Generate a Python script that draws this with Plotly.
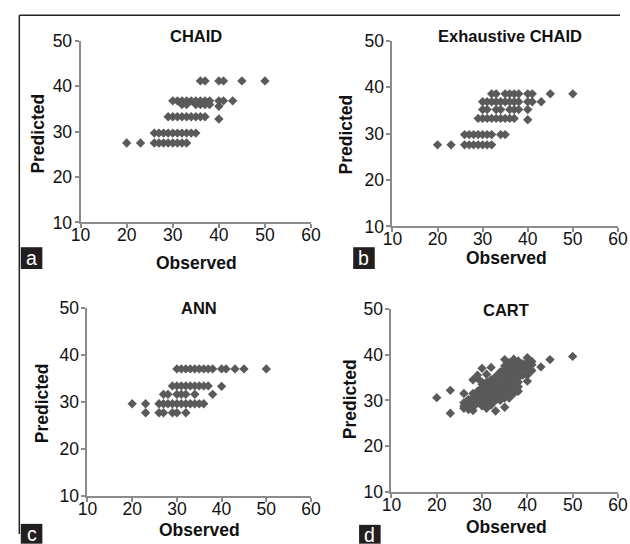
import plotly.graph_objects as go

W, H = 630, 544

# ---------------- data ----------------
# Panel a: CHAID
chaid_x = ([20, 23, 26, 27, 28, 29, 30, 31, 32, 33] +
           [26, 27, 28, 29, 30, 31, 32, 33, 34, 35] +
           [29, 30, 31, 32, 33, 34, 35, 36, 37, 40] +
           [30, 31, 32, 33, 34, 35, 36, 37, 38, 40, 41, 43] +
           [32, 33, 35, 36, 37, 38, 40] +
           [36, 37, 40, 41, 45, 50])
chaid_y = ([27.5] * 10 +
           [29.7] * 10 +
           [33.3] * 9 + [32.8] +
           [36.8] * 12 +
           [36.0] * 6 + [35.6] +
           [41.2] * 6)

# Panel b: Exhaustive CHAID
exh_x = ([20, 23, 26, 27, 28, 29, 30, 31, 32] +
         [26, 27, 28, 29, 30, 31, 32, 34, 35] +
         [29, 30, 31, 32, 33, 34, 35, 36, 37, 40] +
         [30, 31, 33, 34, 36, 37, 38, 40] +
         [30, 31, 32, 33, 34, 35, 36, 37, 38, 40, 41, 43] +
         [32, 33, 35, 36, 37, 38, 40, 41, 45, 50])
exh_y = ([27.6] * 9 +
         [29.8] * 9 +
         [33.3] * 9 + [33.0] +
         [35.2] * 8 +
         [36.9] * 12 +
         [38.6] * 10)

# Panel c: ANN
ann_x = ([23, 26, 27, 29, 30, 32] +
         [20, 23, 26, 27, 28, 29, 30, 31, 32, 33, 34, 35, 36] +
         [27, 28, 30, 31, 32, 34, 38] +
         [29, 30, 31, 32, 33, 34, 35, 36, 37, 40] +
         [30, 31, 32, 33, 34, 35, 36, 37, 38, 40, 41, 43, 45, 50])
ann_y = ([27.7] * 6 +
         [29.6] * 13 +
         [31.6] * 7 +
         [33.4] * 9 + [33.3] +
         [37.0] * 14)

# Panel d: CART
cart_x = ([20, 23, 23] +
          [26] * 4 + [27] * 4 + [28] * 6 + [29] * 7 + [30] * 9 + [31] * 10 +
          [32] * 10 + [33] * 10 + [34] * 9 + [35] * 12 + [36] * 10 + [37] * 10 +
          [38] * 8 + [39] * 3 + [40] * 6 + [41] * 3 + [43, 45, 50])
cart_y = ([30.6, 32.2, 27.2] +
          [31.5, 29.5, 28.3, 28.8] +
          [28.0, 29.0, 30.2, 28.6] +
          [27.8, 29.5, 30.5, 31.5, 34.5, 28.5] +
          [29.5, 30.3, 31.2, 32.0, 34.8, 35.5, 30.8] +
          [29.8, 30.5, 31.3, 32.0, 32.8, 33.5, 37.0, 28.8, 34.0] +
          [28.3, 29.5, 30.3, 31.0, 31.8, 32.5, 33.3, 34.0, 35.7, 30.7] +
          [29.0, 30.0, 30.8, 31.5, 32.3, 33.0, 33.8, 34.5, 37.2, 31.0] +
          [27.7, 30.0, 30.8, 31.5, 32.3, 33.0, 33.8, 34.5, 35.2, 31.8] +
          [30.0, 31.0, 31.8, 32.5, 33.3, 34.0, 34.8, 35.5, 36.2] +
          [28.5, 30.5, 31.5, 32.3, 33.0, 33.8, 34.5, 35.3, 36.0, 36.8, 37.5, 38.9] +
          [30.5, 32.0, 33.0, 33.8, 34.5, 35.3, 36.0, 36.8, 37.5, 38.2] +
          [31.5, 32.5, 33.5, 34.5, 35.5, 36.3, 37.0, 37.8, 38.5, 39.0] +
          [32.0, 33.0, 34.0, 35.0, 36.0, 37.0, 38.0, 38.6] +
          [35.5, 37.0, 38.0] +
          [34.2, 35.5, 36.5, 37.5, 38.3, 39.3] +
          [36.5, 37.8, 38.5] +
          [37.3, 38.9, 39.6])

titles = ["CHAID", "Exhaustive CHAID", "ANN", "CART"]
letters = ["a", "b", "c", "d"]
x_ticks = [10, 20, 30, 40, 50, 60]
y_ticks = [10, 20, 30, 40, 50]

# ---------------- layout helpers ----------------
# The photographed page appears slightly scaled and offset; map target picture
# pixels to page paper fractions accordingly.
SX, SY, OY = 638 / 630, 560 / 544, 8.0

def px(v):
    return v * SX / W

def py(v):
    return 1 - (v * SY - OY) / H

areas = [(72, 307, 39, 222), (390, 620, 39, 226), (79, 307, 308, 498), (389, 620, 309, 494)]
title_pos = [(190, 34), (510, 34), (193, 308), (506, 310)]
xlab_pos = [(190, 263), (506, 258), (193, 532), (506, 529)]
ylab_pos = [(29, 132), (343, 133), (33, 404), (347, 400)]
boxes = [(11, 33, 247, 269), (350, 372, 247, 269), (11, 33, 526, 546), (356, 378, 527, 546)]
letter_dy = [11, 11, 10, 10]

series = [(chaid_x, chaid_y), (exh_x, exh_y), (ann_x, ann_y), (cart_x, cart_y)]

fig = go.Figure()
font_family = "Liberation Sans, Arial, sans-serif"
layout = dict(width=W, height=H, margin=dict(l=0, r=0, t=0, b=0),
              paper_bgcolor="white", plot_bgcolor="white", showlegend=False,
              font=dict(family=font_family, color="#111111"))
annotations = []
shapes = []

for i, ((xs, ys), (l, r, t, b)) in enumerate(zip(series, areas)):
    n = i + 1
    xa = "x" if n == 1 else f"x{n}"
    ya = "y" if n == 1 else f"y{n}"
    fig.add_trace(go.Scatter(x=xs, y=ys, mode="markers", xaxis=xa, yaxis=ya,
                             marker=dict(symbol="diamond", size=7.2, color="#5a5a5a",
                                         line=dict(width=0))))
    axcommon = dict(showgrid=False, zeroline=False, showline=True, linecolor="#8c8c8c",
                    linewidth=2, ticks="outside", ticklen=4, tickcolor="#8c8c8c",
                    tickwidth=2, tickfont=dict(size=17.5, family=font_family, color="#111111"))
    layout[f"xaxis{'' if n == 1 else n}"] = dict(axcommon, domain=[px(l), px(r)], range=[10, 60],
                                                 tickvals=x_ticks, anchor=ya, ticklabelstandoff=-8)
    layout[f"yaxis{'' if n == 1 else n}"] = dict(axcommon, domain=[py(b), py(t)], range=[10, 50],
                                                 tickvals=y_ticks, anchor=xa, ticklabelstandoff=-1)
    tx, ty = title_pos[i]
    annotations.append(dict(x=px(tx), y=py(ty), xref="paper", yref="paper", text=f"<b>{titles[i]}</b>",
                            showarrow=False, font=dict(size=16.5, family=font_family, color="#111111"),
                            xanchor="center", yanchor="middle"))
    lx, ly = xlab_pos[i]
    annotations.append(dict(x=px(lx), y=py(ly), xref="paper", yref="paper", text="<b>Observed</b>",
                            showarrow=False, font=dict(size=17.5, family=font_family, color="#111111"),
                            xanchor="center", yanchor="middle"))
    qx, qy = ylab_pos[i]
    annotations.append(dict(x=px(qx), y=py(qy), xref="paper", yref="paper", text="<b>Predicted</b>",
                            showarrow=False, textangle=-90,
                            font=dict(size=17.5, family=font_family, color="#111111"),
                            xanchor="center", yanchor="middle"))
    bl, br, bt, bb = boxes[i]
    shapes.append(dict(type="rect", xref="paper", yref="paper", x0=px(bl), x1=px(br),
                       y0=py(bb), y1=py(bt), fillcolor="#231f20", line=dict(width=0)))
    annotations.append(dict(x=px((bl + br) / 2), y=py(bt + letter_dy[i]), xref="paper", yref="paper",
                            text=letters[i], showarrow=False,
                            font=dict(size=19.5, family=font_family, color="white"),
                            xanchor="center", yanchor="middle"))

# outer frame (left and top)
shapes.append(dict(type="line", xref="paper", yref="paper", x0=px(9.5), x1=px(9.5),
                   y0=0, y1=py(13), line=dict(color="#222222", width=1.5)))
shapes.append(dict(type="line", xref="paper", yref="paper", x0=px(9.5), x1=1,
                   y0=py(13), y1=py(13), line=dict(color="#222222", width=1.5)))

layout["annotations"] = annotations
layout["shapes"] = shapes
fig.update_layout(**layout)
fig.write_html("out.html", config={"displayModeBar": False},
               post_script="document.body.style.margin='0';document.body.style.overflow='hidden';")
